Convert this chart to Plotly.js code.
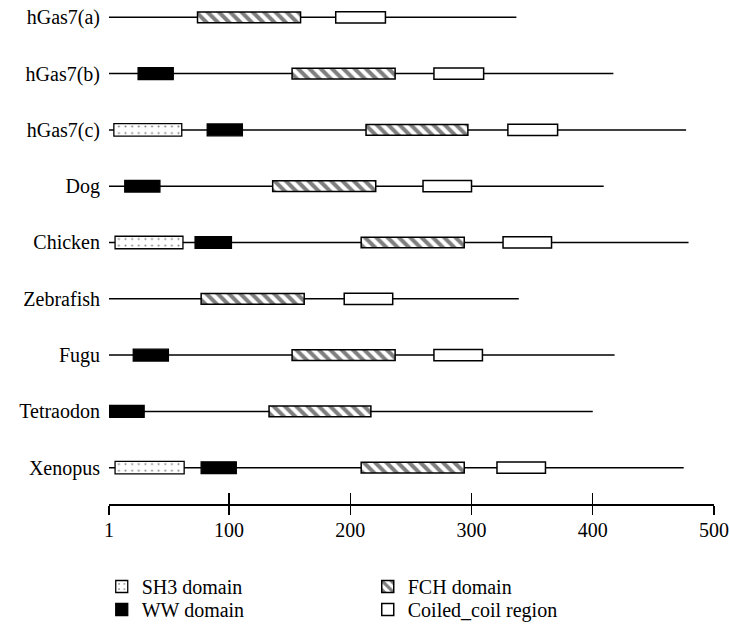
<!DOCTYPE html>
<html><head><meta charset="utf-8">
<script src="https://cdn.plot.ly/plotly-3.0.1.min.js"></script>
<style>html,body{margin:0;padding:0;background:#fff}#chart{width:729px;height:627px}</style>
</head><body><div id="chart"></div>
<script>
// ---- data (amino-acid positions) ----
const species = ['hGas7(a)','hGas7(b)','hGas7(c)','Dog','Chicken','Zebrafish','Fugu','Tetraodon','Xenopus'];
const proteinLength = [337, 417, 477, 409, 479, 339, 418, 400, 475];
const sh3Start = [null, null, 5, null, 6, null, null, null, 6];
const sh3End   = [null, null, 61, null, 62, null, null, null, 63];
const wwStart  = [null, 25, 82, 14, 72, null, 21, 1, 77];
const wwEnd    = [null, 54, 111, 43, 102, null, 50, 30, 106];
const fchStart = [74, 152, 213, 136, 209, 77, 152, 133, 209];
const fchEnd   = [159, 237, 297, 221, 294, 162, 237, 217, 294];
const ccStart  = [188, 269, 330, 260, 326, 195, 269, null, 321];
const ccEnd    = [229, 310, 371, 300, 366, 235, 309, null, 361];
const axisTickVals = [1, 100, 200, 300, 400, 500];
const axisTickText = ['1', '100', '200', '300', '400', '500'];
const domainNames = ['SH3 domain', 'WW domain', 'FCH domain', 'Coiled_coil region'];

// ---- styles ----
const FONT = 'Liberation Serif, Times New Roman, serif';
function domainTrace(name, starts, ends, legendId, rank, width, marker) {
  const y = [], x = [], base = [];
  species.forEach((s, i) => {
    if (starts[i] != null) { y.push(s); base.push(starts[i]); x.push(ends[i] - starts[i]); }
  });
  return {type: 'bar', orientation: 'h', name, y, x, base, width, legend: legendId,
          legendrank: rank, marker, hoverinfo: 'skip'};
}
const traces = [
  domainTrace(domainNames[0], sh3Start, sh3End, 'legend', 1, 0.222, {
    color: 'white', line: {color: 'black', width: 1.3},
    pattern: {shape: '.', fgcolor: 'black', bgcolor: 'white', size: 6.62, solidity: 0.07, fillmode: 'overlay'}}),
  domainTrace(domainNames[1], wwStart, wwEnd, 'legend2', 1, 0.21, {
    color: 'black', line: {color: 'black', width: 1.3}}),
  domainTrace(domainNames[2], fchStart, fchEnd, 'legend', 2, 0.19, {
    color: 'white', line: {color: 'black', width: 1.5},
    pattern: {shape: '\\', fgcolor: 'black', bgcolor: 'white', size: 8, solidity: 0.5, fillmode: 'overlay'}}),
  domainTrace(domainNames[3], ccStart, ccEnd, 'legend2', 2, 0.2, {
    color: 'white', line: {color: 'black', width: 1.5}}),
  {type: 'scatter', x: [], y: [], xaxis: 'x2', yaxis: 'y', showlegend: false, hoverinfo: 'skip'}
];

const backbone = species.map((s, i) => ({
  type: 'line', xref: 'x', yref: 'y', layer: 'below',
  x0: axisTickVals[0], x1: proteinLength[i], y0: s, y1: s,
  line: {color: 'black', width: 1.5}
}));

const legendStyle = {
  orientation: 'h', x: -0.012, xanchor: 'left', yanchor: 'top',
  entrywidth: 221, entrywidthmode: 'pixels',
  font: {family: FONT, size: 20, color: 'black'},
  bgcolor: 'rgba(0,0,0,0)', traceorder: 'normal'
};

const layout = {
  width: 729, height: 627,
  margin: {l: 109, r: 15, t: 4, b: 123, autoexpand: false},
  paper_bgcolor: 'white', plot_bgcolor: 'white',
  font: {family: FONT, size: 20, color: 'black'},
  barmode: 'overlay',
  showlegend: true,
  xaxis: {
    range: [axisTickVals[0], axisTickVals[axisTickVals.length - 1]],
    showgrid: false, zeroline: false,
    showline: true, linecolor: 'black', linewidth: 1.5,
    ticks: 'outside', ticklen: 9, tickwidth: 1.3, tickcolor: 'black',
    tickmode: 'array', tickvals: axisTickVals, ticktext: axisTickText,
    tickfont: {family: FONT, size: 20, color: 'black'},
    ticklabelstandoff: -2, fixedrange: true
  },
  xaxis2: {
    overlaying: 'x', matches: 'x', anchor: 'y', side: 'bottom',
    showgrid: false, zeroline: false, showline: false,
    ticks: 'inside', ticklen: 11, tickwidth: 1.3, tickcolor: 'black',
    tickmode: 'array', tickvals: axisTickVals, showticklabels: false
  },
  yaxis: {
    type: 'category', categoryorder: 'array', categoryarray: species,
    range: [8.645, -0.236],
    showgrid: false, zeroline: false, showline: false, ticks: '',
    tickfont: {family: FONT, size: 20, color: 'black'},
    ticklabelstandoff: 8, fixedrange: true
  },
  legend: Object.assign({}, legendStyle, {y: -0.126}),
  legend2: Object.assign({}, legendStyle, {y: -0.172}),
  shapes: backbone
};

Plotly.newPlot('chart', traces, layout, {displayModeBar: false, staticPlot: true});
</script>
</body></html>
